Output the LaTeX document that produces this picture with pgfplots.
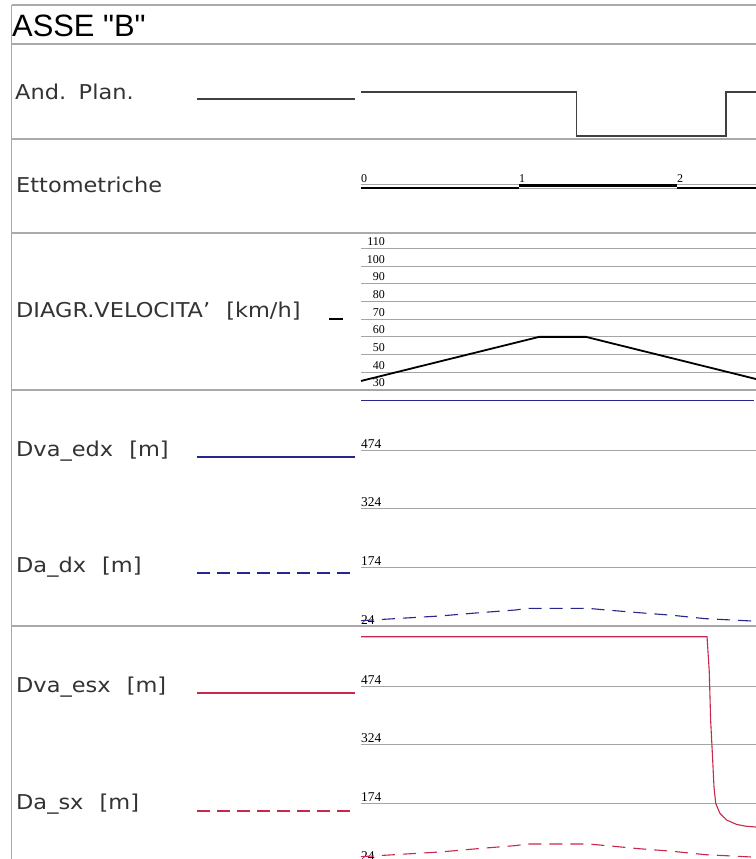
\documentclass[border=0pt]{standalone}
\usepackage{fontspec}
\setmainfont{Liberation Sans}
\newfontfamily\titlefont[Ligatures=TeXOff]{Liberation Sans}
\newfontfamily\cadfont[FakeStretch=1.1]{DejaVu Sans}
\newfontfamily\tickfont{Liberation Serif}
\usepackage{pgfplots}
\pgfplotsset{compat=1.18}
\definecolor{gridgray}{RGB}{165,165,165}
\definecolor{sepgray}{RGB}{170,170,170}
\definecolor{dnavy}{RGB}{38,38,140}
\definecolor{dred}{RGB}{200,40,75}
\pgfplotsset{panel/.style={
  scale only axis, xmin=0, xmax=250, x=1.58bp, anchor=south west,
  axis line style={draw=none}, xtick=\empty, major tick length=0pt,
  ymajorgrids, grid style={gridgray, line width=0.9bp}, clip=false,
  /pgf/number format/assume math mode=true,
  yticklabel style={font=\fontsize{13.5}{13.5}\tickfont, anchor=base west, inner sep=0pt, yshift=1.8bp}
}}
\tikzset{lbl/.style={anchor=base west, inner sep=0pt, text=black!80, font=\fontsize{20.5}{20.5}\cadfont}}
\begin{document}
\begin{tikzpicture}[x=1bp,y=1bp]
\useasboundingbox (0,0) rectangle (756,859);
\clip (0,0) rectangle (756,859);
\fill[white] (0,0) rectangle (756,859);
% table frame
\draw[sepgray, line width=1.1bp] (11.5,854) -- (756,854);
\draw[sepgray, line width=1.1bp] (11.5,854) -- (11.5,0);
\foreach \yy in {815,720,626,469,233} {\draw[sepgray, line width=1.1bp] (11.5,\yy) -- (756,\yy);}
% title and row labels
\node[anchor=base west, inner sep=0pt, font=\fontsize{31}{31}\titlefont] at (12,822) {ASSE "B"};
\node[lbl] at (15,759) {And.\hspace{3bp} Plan.};
\node[lbl] at (16,666) {Ettometriche};
\node[lbl] at (16,541) {DIAGR.VELOCITA’\hspace{9bp} [km/h]};
\node[lbl] at (16,402) {Dva\_edx\hspace{9bp} [m]};
\node[lbl] at (16,286) {Da\_dx\hspace{9bp} [m]};
\node[lbl] at (16,166) {Dva\_esx\hspace{9bp} [m]};
\node[lbl] at (16,49) {Da\_sx\hspace{9bp} [m]};
% legend keys
\draw[black!75, line width=1.1bp] (197,760) -- (355,760);
\draw[black, line width=1.8bp] (329,540) -- (343,540);
\draw[dnavy, line width=1.1bp] (197,402) -- (355,402);
\draw[dnavy, line width=1.1bp, dash pattern=on 13bp off 7bp] (197,286) -- (355,286);
\draw[dred, line width=1.1bp] (197,166) -- (355,166);
\draw[dred, line width=1.1bp, dash pattern=on 13bp off 7bp] (197,48) -- (355,48);

% And. Plan.
\begin{axis}[panel, at={(361bp,723bp)}, ymin=0, ymax=1, y=44bp, ytick=\empty, ymajorgrids=false]
\addplot[black!75, line width=1.1bp] coordinates {(0,1) (136.1,1) (136.1,0) (231,0) (231,1) (250,1)};
\end{axis}

% Ettometriche
\begin{axis}[panel, at={(361bp,664bp)}, ymin=0, ymax=15, y=1bp, ytick=\empty, ymajorgrids=false]
\addplot[gray!70, line width=0.9bp] coordinates {(0,10.4) (100,10.4)};
\addplot[gray!70, line width=0.9bp] coordinates {(100,7) (200,7)};
\addplot[gray!70, line width=0.9bp] coordinates {(200,10.4) (250,10.4)};
\addplot[black, line width=2.2bp] coordinates {(0,7) (100,7)};
\addplot[black, line width=2.2bp] coordinates {(100,9.5) (200,9.5)};
\addplot[black, line width=2.2bp] coordinates {(200,7) (250,7)};
\node[anchor=base west, inner sep=0pt, font=\fontsize{12}{12}\tickfont] at (axis cs:0,12) {0};
\node[anchor=base west, inner sep=0pt, font=\fontsize{12}{12}\tickfont] at (axis cs:100,12) {1};
\node[anchor=base west, inner sep=0pt, font=\fontsize{12}{12}\tickfont] at (axis cs:200,12) {2};
\end{axis}

% Velocity diagram
\begin{axis}[panel, at={(361bp,469bp)}, ymin=30, ymax=110, y=1.77bp,
  ytick={30,40,50,60,70,80,90,100,110},
  yticklabel style={font=\fontsize{12}{12}\tickfont, anchor=base east, xshift=24bp, yshift=1.2bp}]
\addplot[black, line width=1.8bp] coordinates {(0,35.1) (112.7,60) (142.4,60) (250,36.2)};
\end{axis}

% Dva_edx / Da_dx
\begin{axis}[panel, at={(361bp,233bp)}, ymin=24, ymax=620, y=0.3911bp, ytick={24,174,324,474}]
\addplot[dnavy, line width=1.1bp] coordinates {(0,600) (249,600)};
\addplot[dnavy, line width=1.1bp, dash pattern=on 13bp off 8bp] coordinates {(0,37.6) (50,49.6) (75,58) (98,65) (105,69) (144,69) (155,65) (176,58) (197,51.4) (218,42.7) (247,36.8) (250,36.4)};
\end{axis}

% Dva_esx / Da_sx
\begin{axis}[panel, at={(361bp,-3bp)}, ymin=24, ymax=620, y=0.3911bp, ytick={24,174,324,474}]
\addplot[dred, line width=1.1bp] coordinates {(0,600) (219,600) (220.4,512) (221.3,385) (222.6,283) (223.4,216) (224.5,174) (227.2,148) (231.5,131) (237.8,120) (243.5,115.5) (250,113.4)};
\addplot[dred, line width=1.1bp, dash pattern=on 13bp off 8bp] coordinates {(0,37.6) (50,49.6) (75,58.5) (98,66) (105,70) (144,70) (155,66) (176,58) (197,51.4) (218,42.7) (247,36.8) (250,36.4)};
\end{axis}
\end{tikzpicture}
\end{document}
